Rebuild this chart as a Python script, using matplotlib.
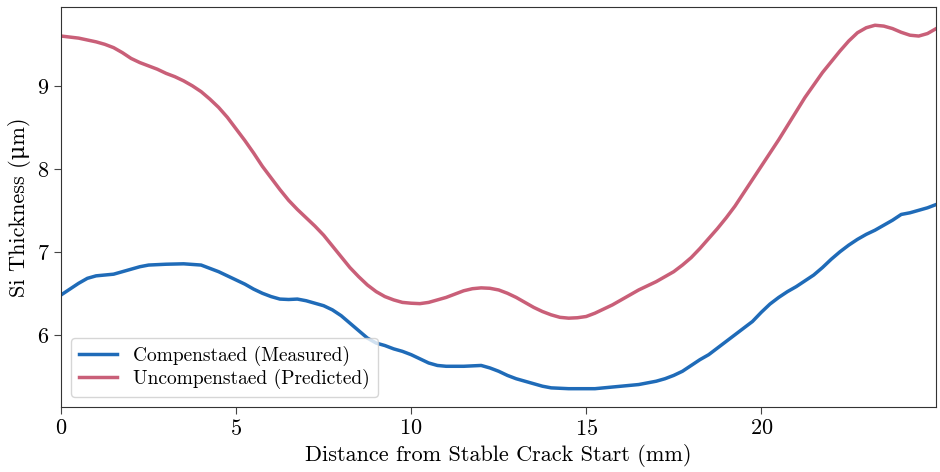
import matplotlib
matplotlib.use("Agg")
import matplotlib.pyplot as plt

plt.rcParams['font.family'] = ['cmr10', 'DejaVu Serif']
plt.rcParams['axes.formatter.use_mathtext'] = True
plt.rcParams['mathtext.fontset'] = 'cm'

# predicted (uncompensated) thickness vs distance (mm)
dist_red = [0, 0.5, 1.0, 1.25, 1.5, 1.75, 2.0, 2.25, 2.5, 2.75, 3.0, 3.25, 3.5,
            3.75, 4.0, 4.25, 4.5, 4.75, 5.0, 5.25, 5.5, 5.75, 6.0, 6.25, 6.5,
            6.75, 7.0, 7.25, 7.5, 7.75, 8.0, 8.25, 8.5, 8.75, 9.0, 9.25, 9.5,
            9.75, 10.0, 10.25, 10.5, 10.75, 11.0, 11.25, 11.5, 11.75, 12.0,
            12.25, 12.5, 12.75, 13.0, 13.25, 13.5, 13.75, 14.0, 14.25, 14.5,
            14.75, 15.0, 15.25, 15.5, 15.75, 16.0, 16.25, 16.5, 16.75, 17.0,
            17.25, 17.5, 17.75, 18.0, 18.25, 18.5, 18.75, 19.0, 19.25, 19.5,
            19.75, 20.0, 20.25, 20.5, 20.75, 21.0, 21.25, 21.5, 21.75, 22.0,
            22.25, 22.5, 22.75, 23.0, 23.25, 23.5, 23.75, 24.0, 24.25, 24.5,
            24.75, 25.0]
uncomp = [9.60, 9.575, 9.53, 9.50, 9.46, 9.40, 9.33, 9.28, 9.24, 9.20, 9.15,
          9.11, 9.06, 9.00, 8.93, 8.84, 8.74, 8.62, 8.48, 8.34, 8.19, 8.03,
          7.89, 7.75, 7.62, 7.51, 7.41, 7.31, 7.20, 7.07, 6.94, 6.81, 6.70,
          6.60, 6.52, 6.46, 6.42, 6.39, 6.38, 6.375, 6.39, 6.42, 6.45, 6.49,
          6.53, 6.555, 6.565, 6.56, 6.54, 6.50, 6.45, 6.39, 6.33, 6.28, 6.24,
          6.21, 6.20, 6.205, 6.22, 6.26, 6.31, 6.36, 6.42, 6.48, 6.54, 6.59,
          6.64, 6.70, 6.76, 6.84, 6.93, 7.04, 7.16, 7.28, 7.41, 7.55, 7.71,
          7.87, 8.03, 8.19, 8.35, 8.52, 8.69, 8.86, 9.01, 9.16, 9.29, 9.42,
          9.54, 9.64, 9.70, 9.73, 9.72, 9.69, 9.645, 9.61, 9.60, 9.63, 9.69]

# measured (compensated) thickness vs distance (mm)
dist_blue = [0, 0.25, 0.5, 0.75, 1.0, 1.25, 1.5, 1.75, 2.0, 2.25, 2.5, 2.75,
             3.0, 3.5, 4.0, 4.25, 4.5, 4.75, 5.0, 5.25, 5.5, 5.75, 6.0, 6.25,
             6.5, 6.75, 7.0, 7.25, 7.5, 7.75, 8.0, 8.25, 8.5, 8.75, 9.0, 9.25,
             9.5, 9.75, 10.0, 10.25, 10.5, 10.75, 11.0, 11.5, 11.75, 12.0,
             12.25, 12.5, 12.75, 13.0, 13.25, 13.5, 13.75, 14.0, 14.5, 15.0,
             15.25, 15.5, 16.0, 16.5, 17.0, 17.25, 17.5, 17.75, 18.0, 18.25,
             18.5, 18.75, 19.0, 19.25, 19.5, 19.75, 20.0, 20.25, 20.5, 20.75,
             21.0, 21.25, 21.5, 21.75, 22.0, 22.25, 22.5, 22.75, 23.0, 23.25,
             23.5, 23.75, 24.0, 24.25, 24.5, 24.75, 25.0]
comp = [6.48, 6.55, 6.62, 6.68, 6.71, 6.72, 6.73, 6.76, 6.79, 6.82, 6.84,
        6.845, 6.85, 6.855, 6.84, 6.80, 6.76, 6.71, 6.66, 6.61, 6.55, 6.50,
        6.46, 6.43, 6.425, 6.43, 6.41, 6.38, 6.35, 6.30, 6.23, 6.14, 6.05,
        5.96, 5.90, 5.87, 5.83, 5.80, 5.76, 5.71, 5.66, 5.63, 5.62, 5.62,
        5.625, 5.63, 5.60, 5.56, 5.51, 5.47, 5.44, 5.41, 5.38, 5.36, 5.35,
        5.35, 5.35, 5.36, 5.38, 5.40, 5.44, 5.47, 5.51, 5.56, 5.63, 5.70,
        5.76, 5.84, 5.92, 6.00, 6.08, 6.16, 6.27, 6.37, 6.45, 6.52, 6.58,
        6.65, 6.72, 6.81, 6.91, 7.00, 7.08, 7.15, 7.21, 7.26, 7.32, 7.38,
        7.45, 7.47, 7.50, 7.53, 7.57]

fig, ax = plt.subplots(figsize=(9.4, 4.72), dpi=100)
fig.subplots_adjust(left=0.065, right=0.996, top=0.985, bottom=0.138)

ax.plot(dist_blue, comp, color='#1f6bb8', lw=2.5, label='Compenstaed (Measured)')
ax.plot(dist_red, uncomp, color='#c95f78', lw=2.5, label='Uncompenstaed (Predicted)')

ax.set_xlim(0, 25)
ax.set_xticks([0, 5, 10, 15, 20])
ax.set_yticks([6, 7, 8, 9])
ax.set_xlabel('Distance from Stable Crack Start (mm)', fontsize=16)
ax.set_ylabel('Si Thickness (\u03bcm)', fontsize=16)
ax.tick_params(labelsize=16, color='#444444', length=5)
for s in ax.spines.values():
    s.set_color('#333333')
ax.legend(loc='lower left', fontsize=14, handlelength=2.0, labelspacing=0.15)

fig.savefig('out.png', dpi=100)
